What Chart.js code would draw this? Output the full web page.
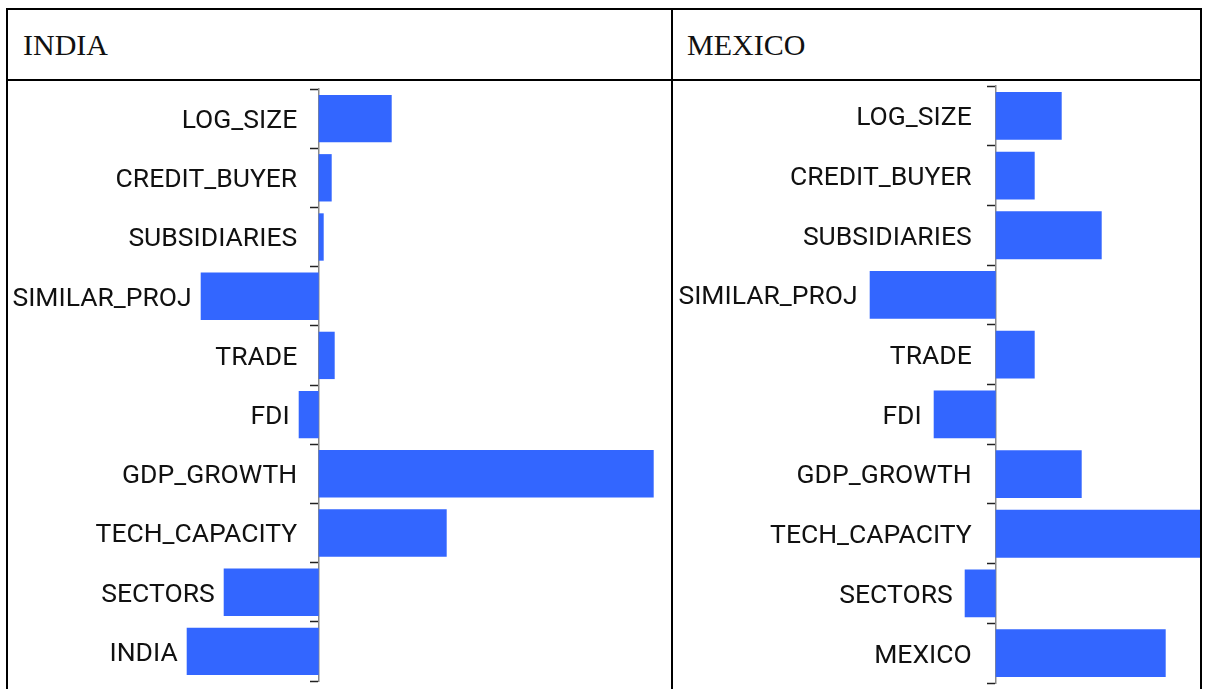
<!DOCTYPE html>
<html>
<head>
<meta charset="utf-8">
<script src="https://cdn.jsdelivr.net/npm/chart.js@4.4.1/dist/chart.umd.min.js"></script>
<style>
  body { margin: 0; background: #fff; width: 1205px; height: 689px; overflow: hidden; position: relative; }
  .line { position: absolute; background: #000; z-index: 2; }
  .title { position: absolute; top: 30px; font-family: 'Liberation Serif', serif; font-size: 30px; line-height: 30px; color: #111; }
  .panel { position: absolute; top: 82px; height: 607px; }
</style>
</head>
<body>
<div class="line" style="left:6px;top:8px;width:1196px;height:2px"></div>
<div class="line" style="left:6px;top:79px;width:1196px;height:2px"></div>
<div class="line" style="left:6px;top:8px;width:2px;height:700px"></div>
<div class="line" style="left:671px;top:8px;width:2px;height:700px"></div>
<div class="line" style="left:1200px;top:8px;width:2px;height:700px"></div>
<div class="title" style="left:23px">INDIA</div>
<div class="title" style="left:687px">MEXICO</div>
<div class="panel" style="left:10px;width:660px"><canvas id="india"></canvas></div>
<div class="panel" style="left:674px;width:527px"><canvas id="mexico"></canvas></div>

<script>
const indiaLabels = ['LOG_SIZE', 'CREDIT_BUYER', 'SUBSIDIARIES', 'SIMILAR_PROJ', 'TRADE',
  'FDI', 'GDP_GROWTH', 'TECH_CAPACITY', 'SECTORS', 'INDIA'];
const indiaValues = [0.73, 0.13, 0.05, -1.18, 0.16, -0.20, 3.35, 1.28, -0.95, -1.32];

const mexicoLabels = ['LOG_SIZE', 'CREDIT_BUYER', 'SUBSIDIARIES', 'SIMILAR_PROJ', 'TRADE',
  'FDI', 'GDP_GROWTH', 'TECH_CAPACITY', 'SECTORS', 'MEXICO'];
const mexicoValues = [0.66, 0.39, 1.06, -1.26, 0.39, -0.62, 0.86, 2.10, -0.31, 1.70];

const barColor = '#3366ff';

// labels sit just left of where each bar starts (or left of the axis)
const sideLabels = {
  id: 'sideLabels',
  afterDatasetsDraw(chart, args, opts) {
    const ctx = chart.ctx;
    const meta = chart.getDatasetMeta(0);
    ctx.save();
    ctx.font = '26.5px Roboto';
    ctx.fillStyle = '#111';
    ctx.textAlign = 'right';
    ctx.textBaseline = 'alphabetic';
    meta.data.forEach((bar, i) => {
      const left = Math.min(bar.x, bar.base);
      const x = Math.min(left - opts.negGap, bar.base - opts.posGap);
      ctx.fillText(chart.data.labels[i], x, bar.y + 9.4);
    });
    ctx.restore();
  }
};

function makeChart(id, labels, values, xMin, xMax, padTop, padBottom, negGap, posGap) {
  return new Chart(document.getElementById(id), {
    type: 'bar',
    data: {
      labels: labels,
      datasets: [{
        data: values,
        backgroundColor: barColor,
        borderWidth: 0,
        barPercentage: 0.8,
        categoryPercentage: 1.0
      }]
    },
    options: {
      indexAxis: 'y',
      responsive: true,
      maintainAspectRatio: false,
      animation: false,
      layout: { padding: { top: padTop, bottom: padBottom, left: 0, right: 0 } },
      plugins: {
        legend: { display: false },
        tooltip: { enabled: false },
        sideLabels: { negGap: negGap, posGap: posGap }
      },
      scales: {
        x: { display: false, min: xMin, max: xMax },
        y: {
          position: { x: 0 },
          ticks: { display: false },
          grid: { drawOnChartArea: false, drawTicks: true, tickLength: 8, tickColor: '#222', tickWidth: 1.5, offset: true },
          border: { display: true, color: '#888', width: 1.5 }
        }
      }
    },
    plugins: [sideLabels]
  });
}

makeChart('india', indiaLabels, indiaValues, -3.087, 3.513, 7, 8, 9, 21.5);
makeChart('mexico', mexicoLabels, mexicoValues, -3.217, 2.053, 4, 6, 12, 24);
</script>
</body>
</html>
